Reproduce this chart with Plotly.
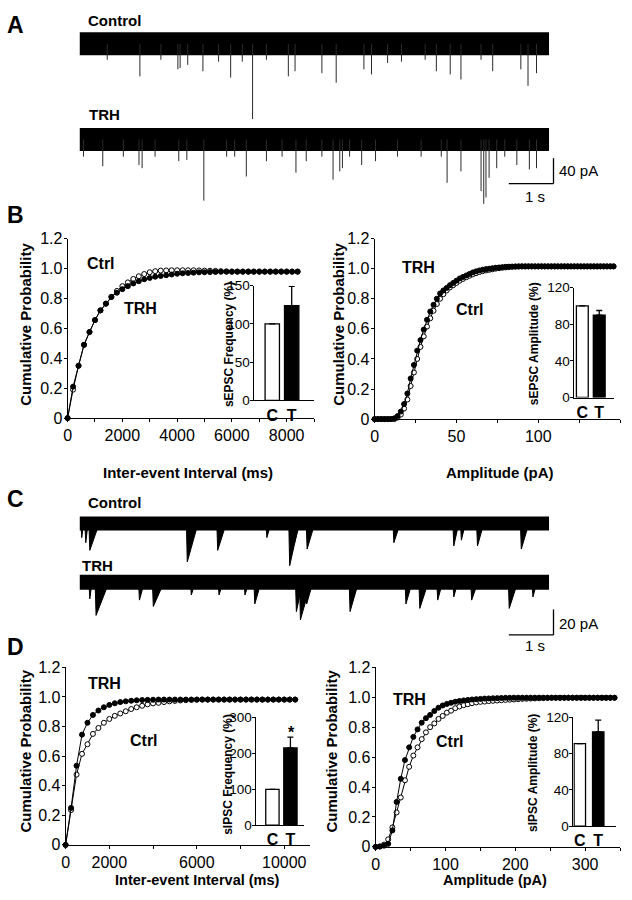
import plotly.graph_objects as go

W, H = 632, 900
FONT = "Liberation Sans, Arial, sans-serif"

# ---------------- data ----------------
# A: sEPSC traces, events (time s, peak pA below baseline)
a_trace_len_s = 10.5
a_ctrl_t = [0.62, 1.35, 1.82, 2.20, 2.25, 2.42, 2.76, 3.11, 3.38, 3.64, 3.87, 4.18, 4.67, 4.82, 5.42,
            5.74, 6.36, 6.53, 6.89, 7.20, 7.73, 7.98, 8.29, 8.53, 8.98, 9.24, 9.87, 10.03, 10.22]
a_ctrl_amp = [25, 51, 25, 40, 38, 33, 43, 28, 53, 28, 118, 25, 51, 43, 46,
              61, 40, 48, 30, 28, 25, 43, 48, 56, 25, 43, 40, 66, 46]
a_trh_t = [0.09, 0.52, 0.98, 1.33, 1.40, 1.69, 2.22, 2.40, 2.78, 3.29, 3.47, 3.73, 4.18, 4.53, 4.84,
           5.07, 5.42, 5.67, 5.82, 5.88, 6.04, 6.31, 6.62, 7.11, 7.64, 8.09, 8.22, 8.53, 8.98, 9.04,
           9.09, 9.16, 9.33, 9.51, 9.78, 10.06, 10.22]
a_trh_amp = [27, 42, 27, 40, 45, 27, 34, 32, 96, 27, 27, 58, 34, 27, 52,
             34, 27, 63, 50, 45, 27, 40, 34, 27, 27, 27, 68, 50, 81, 101,
             91, 60, 45, 27, 40, 47, 45]

# C: sIPSC traces (time s, peak pA, decay s)
c_ctrl_t = [0.04, 0.13, 0.22, 2.40, 3.08, 4.18, 4.69, 4.80, 5.08, 7.02, 8.36, 8.53, 8.89, 9.87]
c_ctrl_amp = [11, 15, 21, 30, 21, 11, 33, 15, 20, 15, 17.5, 13, 17.5, 20]
c_ctrl_decay = [0.05, 0.06, 0.22, 0.25, 0.2, 0.1, 0.22, 0.12, 0.18, 0.15, 0.12, 0.1, 0.15, 0.18]
c_trh_t = [0.22, 0.36, 1.33, 1.64, 2.49, 3.11, 3.69, 3.91, 4.84, 4.93, 5.07, 6.04, 7.29, 7.60,
           8.00, 8.36, 8.76, 9.60, 10.13]
c_trh_amp = [13, 26, 14, 19, 10, 10, 10, 17, 23, 29.5, 17, 23, 17, 20.5, 14, 11.5, 14, 20.5, 11.5]
c_trh_decay = [0.06, 0.3, 0.12, 0.25, 0.1, 0.1, 0.1, 0.15, 0.15, 0.25, 0.15, 0.2, 0.15, 0.2,
               0.12, 0.1, 0.15, 0.2, 0.1]

# B left: sEPSC inter-event interval cumulative probability
b_iei_ms = [0, 200, 400, 600, 800, 1000, 1200, 1400, 1600, 1800, 2000, 2200, 2400, 2600, 2800,
            3000, 3200, 3400, 3600, 3800, 4000, 4200, 4400, 4600, 4800, 5000, 5200, 5400, 5600,
            5800, 6000, 6200, 6400, 6600, 6800, 7000, 7200, 7400, 7600, 7800, 8000, 8200, 8400]
b_iei_ctrl = [0, 0.19, 0.35, 0.49, 0.575, 0.655, 0.72, 0.765, 0.81, 0.85, 0.882, 0.907, 0.93, 0.948,
              0.963, 0.975, 0.982, 0.986, 0.987, 0.988, 0.988, 0.988, 0.988, 0.988, 0.987, 0.986,
              0.985, 0.984, 0.982, 0.981, 0.98, 0.98, 0.98, 0.98, 0.98, 0.98, 0.98, 0.98, 0.98,
              0.98, 0.98, 0.98, 0.98]
b_iei_trh = [0, 0.21, 0.35, 0.49, 0.575, 0.655, 0.72, 0.765, 0.81, 0.838, 0.862, 0.882, 0.9, 0.915,
             0.928, 0.937, 0.945, 0.95, 0.955, 0.96, 0.965, 0.968, 0.97, 0.972, 0.974, 0.975,
             0.976, 0.977, 0.978, 0.978, 0.978, 0.978, 0.978, 0.978, 0.978, 0.978, 0.978, 0.978,
             0.978, 0.978, 0.978, 0.978, 0.978]

# B right: sEPSC amplitude cumulative probability
b_amp_pa = [0, 2, 4, 6, 8, 10, 12, 14, 16, 18, 20, 22, 24, 26, 28, 30, 32, 34, 36, 38, 40, 42, 44,
            46, 48, 50, 52, 54, 56, 58, 60, 62, 64, 66, 68, 70, 72, 74, 76, 78, 80, 82, 84, 86, 88,
            90, 92, 94, 96, 98, 100, 102, 104, 106, 108, 110, 112, 114, 116, 118, 120, 122, 124,
            126, 128, 130, 132, 134, 136, 138, 140, 142, 144, 146]
b_amp_ctrl = [0, 0, 0, 0, 0, 0, 0, 0.01, 0.03, 0.07, 0.13, 0.22, 0.31, 0.40, 0.48, 0.55, 0.615,
              0.67, 0.72, 0.765, 0.80, 0.83, 0.855, 0.875, 0.89, 0.905, 0.92, 0.932, 0.943, 0.953,
              0.962, 0.97, 0.977, 0.983, 0.988, 0.992, 0.996, 1.0, 1.003, 1.006, 1.008, 1.01,
              1.012, 1.013, 1.014, 1.015, 1.015, 1.015, 1.015, 1.015, 1.015, 1.015, 1.015, 1.015,
              1.015, 1.015, 1.015, 1.015, 1.015, 1.015, 1.015, 1.015, 1.015, 1.015, 1.015, 1.015,
              1.015, 1.015, 1.015, 1.015, 1.015, 1.015, 1.015, 1.015]
b_amp_trh = [0, 0, 0, 0, 0, 0, 0.005, 0.02, 0.05, 0.1, 0.17, 0.27, 0.36, 0.455, 0.525, 0.595,
             0.66, 0.715, 0.76, 0.80, 0.835, 0.855, 0.872, 0.89, 0.905, 0.92, 0.935, 0.945, 0.955,
             0.965, 0.975, 0.982, 0.988, 0.993, 0.997, 1.0, 1.003, 1.006, 1.008, 1.01, 1.012,
             1.013, 1.014, 1.015, 1.015, 1.015, 1.015, 1.015, 1.015, 1.015, 1.015, 1.015, 1.015,
             1.015, 1.015, 1.015, 1.015, 1.015, 1.015, 1.015, 1.015, 1.015, 1.015, 1.015, 1.015,
             1.015, 1.015, 1.015, 1.015, 1.015, 1.015, 1.015, 1.015, 1.015]

# D left: sIPSC inter-event interval cumulative probability
d_iei_ms = [0, 250, 500, 750, 1000, 1250, 1500, 1750, 2000, 2250, 2500, 2750, 3000, 3250, 3500,
            3750, 4000, 4250, 4500, 4750, 5000, 5250, 5500, 5750, 6000, 6250, 6500, 6750, 7000,
            7250, 7500, 7750, 8000, 8250, 8500, 8750, 9000, 9250, 9500, 9750, 10000, 10250, 10500]
d_iei_ctrl = [0, 0.235, 0.475, 0.615, 0.68, 0.75, 0.79, 0.825, 0.851, 0.872, 0.888, 0.903, 0.918,
              0.93, 0.94, 0.95, 0.956, 0.96, 0.965, 0.97, 0.973, 0.976, 0.978, 0.98, 0.981, 0.982,
              0.982, 0.982, 0.982, 0.982, 0.982, 0.982, 0.982, 0.982, 0.982, 0.982, 0.982, 0.982,
              0.982, 0.982, 0.982, 0.982, 0.982]
d_iei_trh = [0, 0.25, 0.535, 0.745, 0.825, 0.878, 0.908, 0.93, 0.946, 0.957, 0.965, 0.97, 0.974,
             0.977, 0.979, 0.98, 0.981, 0.982, 0.982, 0.982, 0.982, 0.982, 0.982, 0.982, 0.982,
             0.982, 0.982, 0.982, 0.982, 0.982, 0.982, 0.982, 0.982, 0.982, 0.982, 0.982, 0.982,
             0.982, 0.982, 0.982, 0.982, 0.982, 0.982]

# D right: sIPSC amplitude cumulative probability
d_amp_pa = [0, 6, 12, 18, 24, 30, 36, 42, 48, 54, 60, 66, 72, 78, 84, 90, 96, 102, 108, 114, 120,
            126, 132, 138, 144, 150, 156, 162, 168, 174, 180, 186, 192, 198, 204, 210, 216, 222,
            228, 234, 240, 246, 252, 258, 264, 270, 276, 282, 288, 294, 300, 306, 312, 318, 324,
            330, 336, 342]
d_amp_ctrl = [0, 0.002, 0.015, 0.05, 0.13, 0.23, 0.33, 0.445, 0.535, 0.61, 0.665, 0.72, 0.765,
              0.80, 0.825, 0.855, 0.875, 0.897, 0.91, 0.927, 0.938, 0.947, 0.953, 0.96, 0.965,
              0.969, 0.971, 0.974, 0.976, 0.978, 0.98, 0.982, 0.984, 0.985, 0.987, 0.989, 0.99,
              0.991, 0.992, 0.993, 0.994, 0.995, 0.996, 0.996, 0.996, 0.996, 0.996, 0.996, 0.996,
              0.996, 0.996, 0.996, 0.996, 0.996, 0.996, 0.996, 0.996, 0.996]
d_amp_trh = [0, 0.003, 0.008, 0.02, 0.11, 0.30, 0.455, 0.58, 0.665, 0.735, 0.785, 0.83, 0.86,
             0.882, 0.908, 0.93, 0.945, 0.955, 0.963, 0.97, 0.975, 0.979, 0.982, 0.985, 0.987,
             0.989, 0.991, 0.992, 0.993, 0.994, 0.995, 0.996, 0.996, 0.997, 0.997, 0.997, 0.997,
             0.997, 0.997, 0.997, 0.997, 0.997, 0.997, 0.997, 0.997, 0.997, 0.997, 0.997, 0.997,
             0.997, 0.997, 0.997, 0.997, 0.997, 0.997, 0.997, 0.997, 0.997]

# insets: normalised frequency / amplitude (%), C = control, T = TRH
inset_groups = ["C", "T"]
sepsc_freq = [100, 124]
sepsc_freq_err = [0, 25]
sepsc_amp = [100, 90]
sepsc_amp_err = [0, 5]
sipsc_freq = [100, 215]
sipsc_freq_err = [0, 30]
sipsc_amp = [91, 104]
sipsc_amp_err = [0, 13]


# ---------------- helpers ----------------
def fx(px):
    return px / W


def fy(py):
    return 1 - py / H


def xdom(left, right):
    return [fx(left), fx(right)]


def ydom(top, bottom):
    return [fy(bottom), fy(top)]


fig = go.Figure()


def add_spikes(ax, times, amps, base):
    xs, ys = [], []
    for t, a in zip(times, amps):
        xs += [t, t, None]
        ys += [base, base - a, None]
    fig.add_trace(go.Scatter(x=xs, y=ys, xaxis=ax[0], yaxis=ax[1], mode="lines",
                             line=dict(color="#2a2a2a", width=1), hoverinfo="skip"))


def add_decays(ax, times, amps, decays, base):
    xs, ys = [], []
    for t, a, d in zip(times, amps, decays):
        xs += [t - 0.01, t + 0.01, t + d, None]
        ys += [base, base - a, base, None]
    fig.add_trace(go.Scatter(x=xs, y=ys, xaxis=ax[0], yaxis=ax[1], mode="lines", fill="toself",
                             fillcolor="black", line=dict(color="black", width=1),
                             hoverinfo="skip"))


def add_band(ax, length, base, width):
    fig.add_trace(go.Scatter(x=[0, length], y=[base, base], xaxis=ax[0], yaxis=ax[1],
                             mode="lines", line=dict(color="black", width=width),
                             hoverinfo="skip"))


def add_cum(ax, x, y, filled):
    fig.add_trace(go.Scatter(
        x=x, y=y, xaxis=ax[0], yaxis=ax[1], mode="lines+markers",
        line=dict(color="black", width=1),
        marker=dict(size=5, color="black" if filled else "white",
                    line=dict(color="black", width=1)),
        cliponaxis=False, hoverinfo="skip"))


def add_bars(ax, vals, errs, width):
    fig.add_trace(go.Bar(
        x=[0, 1], y=vals, xaxis=ax[0], yaxis=ax[1], width=width,
        marker=dict(color=["white", "black"], line=dict(color="black", width=1.3)),
        error_y=dict(type="data", array=errs, arrayminus=[0, 0], symmetric=False,
                     color="black", thickness=1.3, width=3),
        hoverinfo="skip"))


# ---------------- panel A ----------------
AX_A = ("x", "y")
add_band(AX_A, a_trace_len_s, 0, 23)
add_spikes(AX_A, a_ctrl_t, a_ctrl_amp, 0)
add_band(AX_A, a_trace_len_s, -150, 23)
add_spikes(AX_A, a_trh_t, a_trh_amp, -150)

# ---------------- panel B ----------------
add_cum(("x2", "y2"), b_iei_ms, b_iei_ctrl, False)
add_cum(("x2", "y2"), b_iei_ms, b_iei_trh, True)
add_bars(("x3", "y3"), sepsc_freq, sepsc_freq_err, 0.74)
add_cum(("x4", "y4"), b_amp_pa, b_amp_ctrl, False)
add_cum(("x4", "y4"), b_amp_pa, b_amp_trh, True)
add_bars(("x5", "y5"), sepsc_amp, sepsc_amp_err, 0.7)

# ---------------- panel C ----------------
AX_C = ("x6", "y6")
add_band(AX_C, a_trace_len_s, 0, 14)
add_decays(AX_C, c_ctrl_t, c_ctrl_amp, c_ctrl_decay, 0)
add_band(AX_C, a_trace_len_s, -46, 15)
add_decays(AX_C, c_trh_t, c_trh_amp, c_trh_decay, -46)

# ---------------- panel D ----------------
add_cum(("x7", "y7"), d_iei_ms, d_iei_ctrl, False)
add_cum(("x7", "y7"), d_iei_ms, d_iei_trh, True)
add_bars(("x8", "y8"), sipsc_freq, sipsc_freq_err, 0.74)
add_cum(("x9", "y9"), d_amp_pa, d_amp_ctrl, False)
add_cum(("x9", "y9"), d_amp_pa, d_amp_trh, True)
add_bars(("x10", "y10"), sipsc_amp, sipsc_amp_err, 0.62)

# ---------------- axes ----------------
line_ax = dict(showline=True, linecolor="black", linewidth=1, ticks="outside", ticklen=3,
               tickwidth=1, tickcolor="black", showgrid=False, zeroline=False,
               tickfont=dict(size=16, color="black", family=FONT))
cum_y = dict(line_ax, range=[0, 1.2], tickvals=[0, 0.2, 0.4, 0.6, 0.8, 1.0, 1.2],
             ticktext=["0", "0.2", "0.4", "0.6", "0.8", "1.0", "1.2"], ticklabelstandoff=-2)
inset_x = dict(showline=True, linecolor="black", linewidth=1, ticks="", showgrid=False,
               zeroline=False, tickvals=[0, 1],
               ticktext=["<b>%s</b>" % g for g in inset_groups],
               tickfont=dict(size=16, color="black", family=FONT))
inset_y = dict(line_ax, tickfont=dict(size=13.5, color="black", family=FONT),
               ticklabelstandoff=-2)
hidden = dict(visible=False, showgrid=False, zeroline=False)


def tick_labels(vals, shown):
    return [str(v) if v in shown else "" for v in vals]


iei_b_ticks = [0, 1000, 2000, 3000, 4000, 5000, 6000, 7000, 8000, 9000]
amp_b_ticks = [0, 25, 50, 75, 100, 125, 150]
iei_d_ticks = [0, 2000, 4000, 6000, 8000, 10000]
amp_d_ticks = [0, 50, 100, 150, 200, 250, 300, 350]

fig.update_layout(
    # A traces: 1 s = 45 px, 40 pA = 26 px
    xaxis=dict(hidden, domain=xdom(76, 556), range=[0, 480 / 45], anchor="y"),
    yaxis=dict(hidden, domain=ydom(15, 210), range=[-(210 - 36.5) * 40 / 26, (36.5 - 15) * 40 / 26],
               anchor="x"),
    # B left
    xaxis2=dict(line_ax, domain=xdom(64, 312), range=[0, 9000], anchor="y2",
                tickvals=iei_b_ticks, ticktext=tick_labels(iei_b_ticks, [0, 2000, 4000, 6000, 8000])),
    yaxis2=dict(cum_y, domain=ydom(235, 418), anchor="x2"),
    xaxis3=dict(inset_x, domain=xdom(252, 312), range=[-0.92, 2.15], anchor="y3"),
    yaxis3=dict(inset_y, domain=ydom(283, 400), range=[0, 150], tickvals=[0, 50, 100, 150],
                anchor="x3"),
    # B right
    xaxis4=dict(line_ax, domain=xdom(373, 620), range=[0, 150], anchor="y4",
                tickvals=amp_b_ticks, ticktext=tick_labels(amp_b_ticks, [0, 50, 100, 150])),
    yaxis4=dict(cum_y, domain=ydom(235, 419), anchor="x4"),
    xaxis5=dict(inset_x, domain=xdom(574, 614), range=[-0.47, 1.88], anchor="y5"),
    yaxis5=dict(inset_y, domain=ydom(285, 397), range=[0, 120], tickvals=[0, 40, 80, 120],
                anchor="x5"),
    # C traces: 1 s = 45 px, 20 pA = 26 px
    xaxis6=dict(hidden, domain=xdom(76, 556), range=[0, 480 / 45], anchor="y6"),
    yaxis6=dict(hidden, domain=ydom(490, 650), range=[-(650 - 525.5) * 20 / 26, (525.5 - 490) * 20 / 26],
                anchor="x6"),
    # D left
    xaxis7=dict(line_ax, domain=xdom(62, 308), range=[0, 11180], anchor="y7",
                tickvals=iei_d_ticks, ticktext=tick_labels(iei_d_ticks, [0, 2000, 6000, 10000])),
    yaxis7=dict(cum_y, domain=ydom(672, 853), anchor="x7"),
    xaxis8=dict(inset_x, domain=xdom(254, 302), range=[-0.89, 1.76], anchor="y8"),
    yaxis8=dict(inset_y, domain=ydom(723, 833), range=[0, 300], tickvals=[0, 100, 200, 300],
                anchor="x8"),
    # D right
    xaxis9=dict(line_ax, domain=xdom(374, 620), range=[0, 350], anchor="y9",
                tickvals=amp_d_ticks, ticktext=tick_labels(amp_d_ticks, [0, 100, 200, 300])),
    yaxis9=dict(cum_y, domain=ydom(672, 855), anchor="x9"),
    xaxis10=dict(inset_x, domain=xdom(573, 616), range=[-0.35, 1.97], anchor="y10"),
    yaxis10=dict(inset_y, domain=ydom(723, 834), range=[0, 120], tickvals=[0, 40, 80, 120],
                 anchor="x10"),
)

# ---------------- scale bars ----------------
for top, bottom in [(153, 179), (613, 639)]:
    fig.add_shape(type="line", xref="paper", yref="paper", x0=fx(553), x1=fx(553),
                  y0=fy(top), y1=fy(bottom), line=dict(color="black", width=1.3))
    fig.add_shape(type="line", xref="paper", yref="paper", x0=fx(508), x1=fx(553),
                  y0=fy(bottom), y1=fy(bottom), line=dict(color="black", width=1.3))

# ---------------- text ----------------
def label(text, x, y, size=16, bold=True, anchor="left", angle=0):
    fig.add_annotation(text="<b>%s</b>" % text if bold else text, x=fx(x), y=fy(y),
                       xref="paper", yref="paper", showarrow=False, xanchor=anchor,
                       yanchor="middle", textangle=angle,
                       font=dict(size=size, color="black", family=FONT))


for letter, y in [("A", 17), ("B", 211), ("C", 500), ("D", 651)]:
    label(letter, 1, y, size=23)

label("Control", 83, 12.5, 15)
label("TRH", 84, 109, 15)
label("40 pA", 557, 166, 15, bold=False)
label("1 s", 534, 192, 15, bold=False, anchor="center")
label("Control", 83, 504, 15)
label("TRH", 76, 568, 15)
label("20 pA", 557, 627, 15, bold=False)
label("1 s", 534, 650, 15, bold=False, anchor="center")

label("Ctrl", 82, 260)
label("TRH", 119, 306)
label("TRH", 399, 265)
label("Ctrl", 453, 307)
label("TRH", 83, 689)
label("Ctrl", 125, 747)
label("TRH", 389, 705)
label("Ctrl", 433, 748)

for x, y in [(22, 322), (337, 322), (22, 757), (330, 757)]:
    label("Cumulative Probability", x, y, 15, anchor="center", angle=-90)
label("Inter-event Interval (ms)", 185, 473, 15, anchor="center")
label("Amplitude (pA)", 499, 473, 15, anchor="center")
label("Inter-event Interval (ms)", 195, 889, 14.5, anchor="center")
label("Amplitude (pA)", 494, 889, 14.5, anchor="center")

label("sEPSC Frequency (%)", 226, 343, 12, anchor="center", angle=-90)
label("sEPSC Amplitude (%)", 533, 342, 12, anchor="center", angle=-90)
label("sIPSC Frequency (%)", 226, 781, 12, anchor="center", angle=-90)
label("sIPSC Amplitude (%)", 533, 780, 12, anchor="center", angle=-90)
label("*", 289, 738, 16, anchor="center")

fig.update_layout(
    width=W, height=H, autosize=False, showlegend=False,
    margin=dict(l=0, r=0, t=0, b=0),
    paper_bgcolor="white", plot_bgcolor="rgba(0,0,0,0)",
    font=dict(family=FONT, color="black"),
    bargap=0,
)

# page body margin would push the 632x900 figure off the window
fig.write_html("out.html", config={"displayModeBar": False, "staticPlot": True},
               post_script="document.body.style.margin='0';"
                           "document.body.style.overflow='hidden';")
